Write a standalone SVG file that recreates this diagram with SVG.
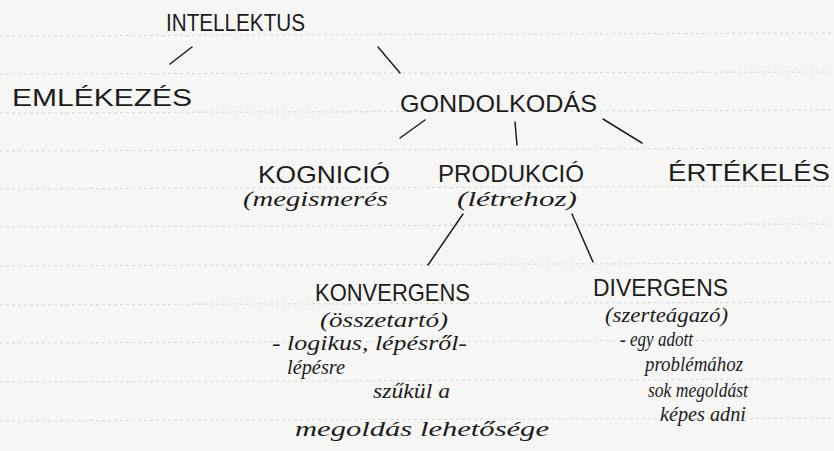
<svg xmlns="http://www.w3.org/2000/svg" width="834" height="451" viewBox="0 0 834 451">
<style>
.rule{stroke:#cfd1cf;stroke-width:0.8;stroke-dasharray:3 3}
.conn{stroke:#1e1e1e;stroke-width:1.5;stroke-linecap:round;fill:none}
.cap{font-family:"Liberation Sans",Arial,sans-serif;font-size:24px;fill:#1c1c1c}
.sub{font-family:"Liberation Serif","Times New Roman",serif;font-style:italic;font-size:21px;fill:#1c1c1c}
</style>
<rect width="834" height="451" fill="#f6f7f5"/>
<g id="paper-lines">
<line class="rule" x1="0" y1="36" x2="834" y2="33"/>
<line class="rule" x1="0" y1="74" x2="834" y2="72"/>
<line class="rule" x1="0" y1="113" x2="834" y2="110"/>
<line class="rule" x1="0" y1="151" x2="834" y2="148"/>
<line class="rule" x1="0" y1="189" x2="834" y2="186"/>
<line class="rule" x1="0" y1="227" x2="834" y2="224"/>
<line class="rule" x1="0" y1="266" x2="834" y2="263"/>
<line class="rule" x1="0" y1="305" x2="834" y2="302"/>
<line class="rule" x1="0" y1="343" x2="834" y2="340"/>
<line class="rule" x1="0" y1="382" x2="834" y2="379"/>
<line class="rule" x1="0" y1="421" x2="834" y2="418"/>
</g>
<g id="connectors">
<line class="conn" x1="192" y1="47" x2="170" y2="64"/>
<line class="conn" x1="378" y1="47" x2="400" y2="73"/>
<line class="conn" x1="425" y1="120" x2="400" y2="138"/>
<line class="conn" x1="515" y1="122" x2="517" y2="145"/>
<line class="conn" x1="603" y1="119" x2="642" y2="143"/>
<line class="conn" x1="463" y1="214" x2="428" y2="265"/>
<line class="conn" x1="572" y1="214" x2="593" y2="262"/>
</g>
<g id="intellektus"><text class="cap" x="166" y="31" textLength="139" lengthAdjust="spacingAndGlyphs">INTELLEKTUS</text></g>
<g id="emlekezes"><text class="cap" x="12" y="106" textLength="180" lengthAdjust="spacingAndGlyphs">EMLÉKEZÉS</text></g>
<g id="gondolkodas"><text class="cap" x="400" y="112" textLength="197" lengthAdjust="spacingAndGlyphs">GONDOLKODÁS</text></g>
<g id="kognicio">
<text class="cap" x="258" y="183" textLength="132" lengthAdjust="spacingAndGlyphs">KOGNICIÓ</text>
<text class="sub" x="243" y="206" font-size="20" textLength="145" lengthAdjust="spacingAndGlyphs">(megismerés</text>
</g>
<g id="produkcio">
<text class="cap" x="438" y="182" textLength="146" lengthAdjust="spacingAndGlyphs">PRODUKCIÓ</text>
<text class="sub" x="457" y="206" font-size="20" textLength="120" lengthAdjust="spacingAndGlyphs">(létrehoz)</text>
</g>
<g id="ertekeles"><text class="cap" x="668" y="181" textLength="162" lengthAdjust="spacingAndGlyphs">ÉRTÉKELÉS</text></g>
<g id="konvergens">
<text class="cap" x="315" y="301" textLength="155" lengthAdjust="spacingAndGlyphs">KONVERGENS</text>
<text class="sub" x="320" y="327" font-size="21" textLength="128" lengthAdjust="spacingAndGlyphs">(összetartó)</text>
<text class="sub" x="272" y="350" font-size="22" textLength="195" lengthAdjust="spacingAndGlyphs">- logikus, lépésről-</text>
<text class="sub" x="287" y="374" font-size="19" textLength="58" lengthAdjust="spacingAndGlyphs">lépésre</text>
<text class="sub" x="373" y="398" font-size="21" textLength="77" lengthAdjust="spacingAndGlyphs">szűkül a</text>
<text class="sub" x="295" y="436" font-size="24" textLength="254" lengthAdjust="spacingAndGlyphs">megoldás lehetősége</text>
</g>
<g id="divergens">
<text class="cap" x="593" y="296" textLength="135" lengthAdjust="spacingAndGlyphs">DIVERGENS</text>
<text class="sub" x="605" y="322" font-size="20" textLength="123" lengthAdjust="spacingAndGlyphs">(szerteágazó)</text>
<text class="sub" x="620" y="346" font-size="18" textLength="73" lengthAdjust="spacingAndGlyphs">- egy adott</text>
<text class="sub" x="645" y="371" font-size="19" textLength="98" lengthAdjust="spacingAndGlyphs">problémához</text>
<text class="sub" x="648" y="397" font-size="18" textLength="100" lengthAdjust="spacingAndGlyphs">sok megoldást</text>
<text class="sub" x="660" y="421" font-size="19" textLength="86" lengthAdjust="spacingAndGlyphs">képes adni</text>
</g>
</svg>
